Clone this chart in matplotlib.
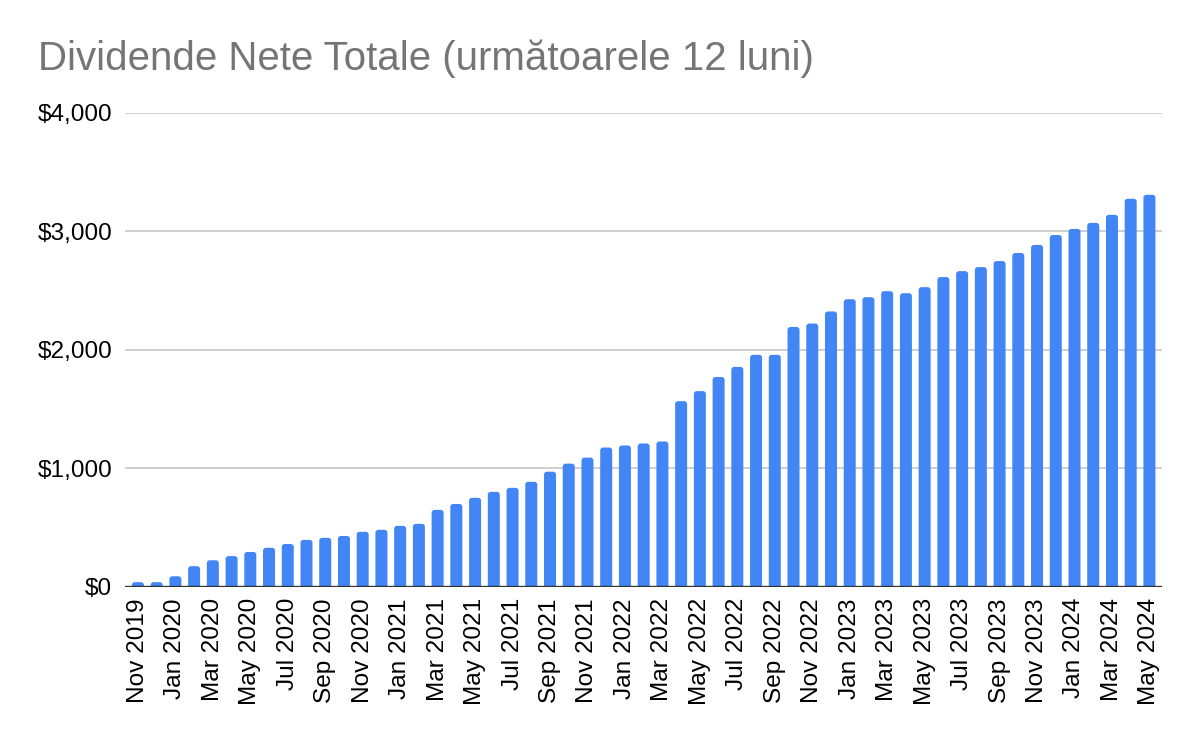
'''
Dividende nete totale (urmatoarele 12 luni) - bar chart
'''

import matplotlib
matplotlib.use("Agg")
import matplotlib.pyplot as plt
from matplotlib.patches import FancyBboxPatch
from matplotlib.ticker import FuncFormatter

plt.rcParams["font.family"] = ["Liberation Sans", "DejaVu Sans"]

# monthly values, Nov 2019 .. May 2024
months = ["Jan", "Feb", "Mar", "Apr", "May", "Jun",
          "Jul", "Aug", "Sep", "Oct", "Nov", "Dec"]
labels = ["Nov 2019", "Dec 2019"]
for year in range(2020, 2024):
    labels += [m + " " + str(year) for m in months]
labels += [m + " 2024" for m in months[:5]]

values = [
    40, 40,
    90, 175, 225, 260, 295, 330, 362, 397, 414, 430, 465, 482,
    515, 532, 650, 700, 752, 802, 836, 887, 972, 1040, 1091, 1176,
    1193, 1210, 1227, 1567, 1652, 1771, 1856, 1958, 1958, 2193, 2222, 2324,
    2427, 2444, 2495, 2478, 2529, 2614, 2664, 2698, 2749, 2817, 2885, 2969,
    3020, 3071, 3139, 3275, 3308,
]

fig = plt.figure(figsize=(12, 7.42), dpi=100)
ax = fig.add_axes([0.104, 0.209, 0.864, 0.639])

x = list(range(len(values)))
bars = ax.bar(x, values, width=0.64, color="#4285F4", zorder=3)

ax.set_ylim(0, 4000)
ax.set_xlim(-0.7, len(values) - 0.35)

# swap the plain bars for ones with slightly rounded tops
for b in bars:
    b.set_visible(False)
    r = FancyBboxPatch((b.get_x(), -60), b.get_width(), b.get_height() + 60,
                       boxstyle="round,pad=0,rounding_size=0.16",
                       mutation_aspect=150, facecolor="#4285F4",
                       edgecolor="none", zorder=3)
    ax.add_patch(r)

ax.set_yticks([0, 1000, 2000, 3000, 4000])
ax.yaxis.set_major_formatter(FuncFormatter(lambda v, p: "${:,.0f}".format(v)))
ax.grid(axis="y", color="#cccccc", linewidth=1.3, zorder=0)
ax.axhline(0, color="#333333", linewidth=2.4, zorder=4)

ax.set_xticks(x[::2])
ax.set_xticklabels(labels[::2], rotation=90, va="top", ha="center")
ax.tick_params(axis="both", length=0, labelsize=17.6, colors="black")
ax.tick_params(axis="y", pad=9)
ax.tick_params(axis="x", pad=8)

for s in ax.spines.values():
    s.set_visible(False)

fig.text(0.032, 0.906, "Dividende Nete Totale (următoarele 12 luni)",
         fontsize=29, color="#757575", ha="left", va="baseline")

fig.savefig("out.png", dpi=100)
